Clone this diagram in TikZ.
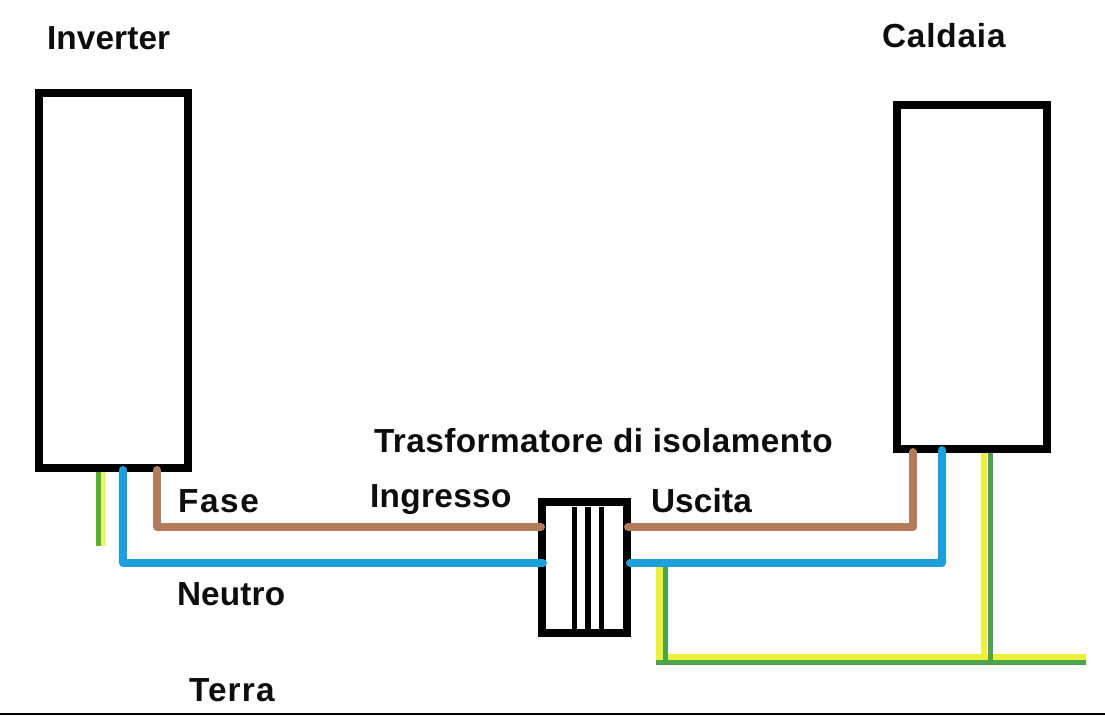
\documentclass[tikz,border=0pt]{standalone}
\usepackage{fontspec}
\setmainfont{Liberation Sans}
\definecolor{brownw}{HTML}{B27C5C}
\definecolor{bluew}{HTML}{1C9FDC}
\definecolor{greenw}{HTML}{4BA34B}
\definecolor{limew}{HTML}{56B02E}
\definecolor{yelloww}{HTML}{EDF03A}
\definecolor{palew}{HTML}{EEF27A}
\newcommand{\lsp}[1]{\addfontfeature{LetterSpace=#1}}
\tikzset{
  x=0.75pt,y=-0.75pt,
  box/.style={draw=black,fill=white,rectangle,inner sep=0pt,outer sep=0pt,line width=6pt},
  bar/.style={fill=black,rectangle,inner sep=0pt,outer sep=0pt,minimum height=91.5pt},
  lbl/.style={anchor=base west,inner sep=0pt,outer sep=0pt,font=\bfseries\fontsize{25}{28}\selectfont,text=black!95},
  wire/.style={line width=6pt,line join=round,line cap=round},
  brownwire/.style={wire,draw=brownw},
  bluewire/.style={wire,draw=bluew},
  gy/.style={line width=#1,line cap=butt,line join=miter}
}
\begin{document}
\begin{tikzpicture}
\useasboundingbox[fill=white] (0,0) rectangle (1105,715);
% frame line at the bottom
\coordinate (bl) at (0,714.2);
\coordinate (br) at (1105,714.2);
\draw[line width=1.2pt,black] (bl) -- (br);

% ground wires (under the boxes)
\coordinate (gl1) at (98.5,470);  \coordinate (gl2) at (98.5,546);
\coordinate (yl1) at (103.5,470); \coordinate (yl2) at (103.5,546);
\draw[gy=3.9pt,limew] (gl1) -- (gl2);
\draw[gy=3.9pt,palew] (yl1) -- (yl2);

\coordinate (ybL) at (656,657);   \coordinate (ybR) at (1086,657);
\coordinate (gbL) at (656,662.5); \coordinate (gbR) at (1086,662.5);
\draw[gy=4.5pt,yelloww] (ybL) -- (ybR);
\draw[gy=4.2pt,greenw] (gbL) -- (gbR);

\coordinate (yt1) at (659.5,565); \coordinate (yt2) at (659.5,660);
\coordinate (gt1) at (665.5,565); \coordinate (gt2) at (665.5,660);
\draw[gy=5pt,yelloww] (yt1) -- (yt2);
\draw[gy=4pt,greenw] (gt1) -- (gt2);

\coordinate (yc1) at (984,448); \coordinate (yc2) at (984,660);
\coordinate (gc1) at (990.5,448); \coordinate (gc2) at (990.5,664.5);
\draw[gy=5pt,yelloww] (yc1) -- (yc2);
\draw[gy=4pt,greenw] (gc1) -- (gc2);

% boxes
\node[box,minimum width=112pt,minimum height=281pt] (inv) at (113.5,280.5) {};
\node[box,minimum width=112.5pt,minimum height=258pt] (cal) at (971.5,277) {};
\node[box,minimum width=64pt,minimum height=98pt] (tr) at (584.5,567.5) {};
\node[bar,minimum width=4.1pt] (b1) at (574.5,568) {};
\node[bar,minimum width=4.1pt] (b2) at (588,568) {};
\node[bar,minimum width=4.1pt] (b3) at (601.5,568) {};

% phase and neutral wires
\coordinate (invF) at (157,470);
\coordinate (invN) at (123,470);
\coordinate (calF) at (913,452);
\coordinate (calN) at (942,450);
\coordinate (trFi) at (541,527);
\coordinate (trNi) at (543,563);
\coordinate (trFo) at (628,527);
\coordinate (trNo) at (630,563);
\draw[brownwire] (invF) |- (trFi);
\draw[bluewire] (invN) |- (trNi);
\draw[brownwire] (trFo) -| (calF);
\draw[bluewire] (trNo) -| (calN);

% labels
\node[lbl] (tinv) at (47,49) {\lsp{0.4}Inverter};
\node[lbl] (tcal) at (882,47) {\lsp{2.5}Caldaia};
\node[lbl] (ttr) at (374,452) {\lsp{1.3}Trasformatore di isolamento};
\node[lbl] (tfase) at (178,512) {\lsp{5}Fase};
\node[lbl] (ting) at (370,507) {\lsp{1.1}Ingresso};
\node[lbl] (tusc) at (651,512) {\lsp{0.5}Uscita};
\node[lbl] (tneu) at (177,605) {\lsp{0.5}Neutro};
\node[lbl] (tter) at (189,701) {\lsp{3.5}Terra};
\end{tikzpicture}
\end{document}
